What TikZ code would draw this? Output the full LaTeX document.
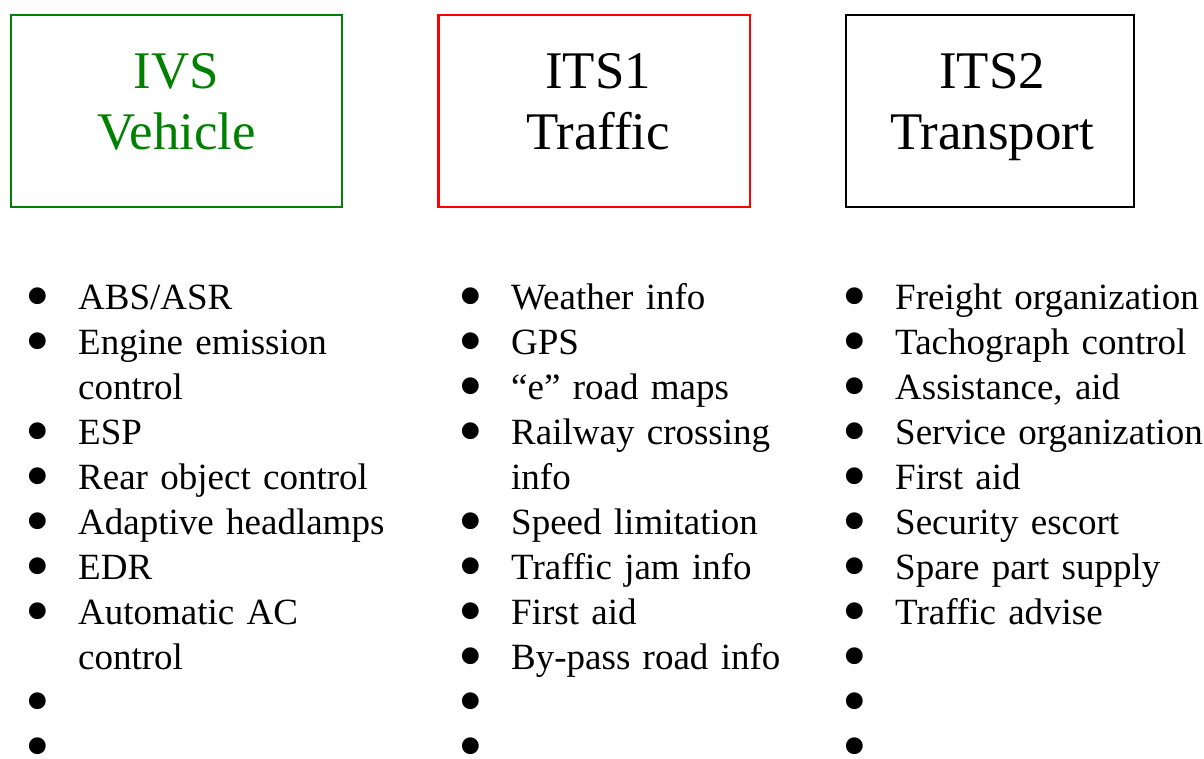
\documentclass[tikz,border=0pt]{standalone}
\usepackage{fontspec}
\setmainfont{Liberation Serif}
\usepackage{graphicx}
\usetikzlibrary{calc,positioning}

% bulleted list used in the three columns
\newenvironment{servicelist}{%
	\begin{list}{\smash{\raisebox{-10pt}{\scalebox{1.9}{\textbullet}}}}{%
		\setlength\leftmargin{52.3pt}\setlength\labelwidth{52.3pt}%
		\setlength\labelsep{0pt}\setlength\itemsep{0pt}\setlength\parsep{0pt}%
		\setlength\topsep{0pt}\setlength\partopsep{0pt}%
		\renewcommand\makelabel[1]{##1\hfil}}}%
	{\end{list}}

\begin{document}
\begin{tikzpicture}[
		x=1pt,y=-1pt,
		catbox/.style={draw=#1,line width=2.2pt,minimum height=191.8pt,inner sep=0pt},
		cattitle/.style={text=#1,font=\fontsize{52.9}{61}\selectfont,align=center,
			inner sep=0pt,anchor=base},
		itemlist/.style={font=\fontsize{37}{45}\selectfont,text width=400pt,align=left,
			inner sep=0pt,anchor=base west},
	]
	\useasboundingbox (0,0) rectangle (1204,758);
	%
	% category boxes
	\node[catbox=green!50!black,minimum width=331.3pt] (ivs)  at (176.4,111.1) {};
	\node[catbox=red,minimum width=311.8pt]            (its1) at (594.4,111.1) {};
	\node[catbox=black,minimum width=287.6pt]          (its2) at (990,111.1) {};
	% titles (base = second line)
	\node[cattitle=green!50!black] (ivs_title)  at (176.5,149.3) {IVS\\Vehicle};
	\node[cattitle=black]          (its1_title) at (598,149.3)   {ITS1\\Traffic};
	\node[cattitle=black]          (its2_title) at (992,149.3)   {ITS2\\Transport};
	%
	% service lists
	\node[itemlist] (ivs_list) at (25.7,264.3) {%
		\begin{servicelist}
			\item ABS/ASR
			\item Engine emission\newline control
			\item ESP
			\item Rear object control
			\item Adaptive headlamps
			\item EDR
			\item Automatic AC\newline control
			\item \mbox{}
			\item \mbox{}
		\end{servicelist}};
	\node[itemlist] (its1_list) at (458.7,264.3) {%
		\begin{servicelist}
			\item Weather info
			\item GPS
			\item “e” road maps
			\item Railway crossing\newline info
			\item Speed limitation
			\item Traffic jam info
			\item First aid
			\item By-pass road info
			\item \mbox{}
			\item \mbox{}
		\end{servicelist}};
	\node[itemlist] (its2_list) at (842.7,264.3) {%
		\begin{servicelist}
			\item Freight organization
			\item Tachograph control
			\item Assistance, aid
			\item Service organization
			\item First aid
			\item Security escort
			\item Spare part supply
			\item Traffic advise
			\item \mbox{}
			\item \mbox{}
			\item \mbox{}
		\end{servicelist}};
\end{tikzpicture}
\end{document}
